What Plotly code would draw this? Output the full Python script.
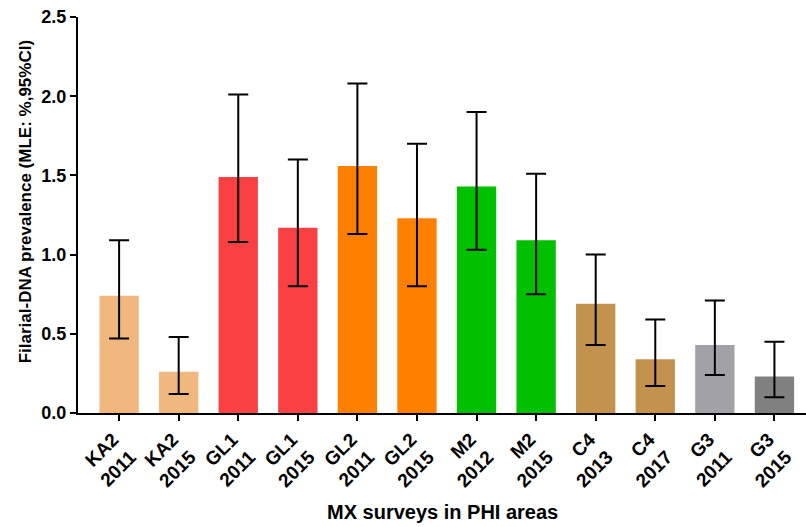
import plotly.graph_objects as go

areas = ["KA2", "KA2", "GL1", "GL1", "GL2", "GL2", "M2", "M2", "C4", "C4", "G3", "G3"]
years = ["2011", "2015", "2011", "2015", "2011", "2015", "2012", "2015", "2013", "2017", "2011", "2015"]
prevalence = [0.74, 0.26, 1.49, 1.17, 1.56, 1.23, 1.43, 1.09, 0.69, 0.34, 0.43, 0.23]
ci_upper = [1.09, 0.48, 2.01, 1.60, 2.08, 1.70, 1.90, 1.51, 1.00, 0.59, 0.71, 0.45]
ci_lower = [0.47, 0.12, 1.08, 0.80, 1.13, 0.80, 1.03, 0.75, 0.43, 0.17, 0.24, 0.10]
colors = ["#F0B77F", "#F0B77F", "#F94144", "#F94144", "#FF8000", "#FF8000",
          "#00C000", "#00C000", "#C4924F", "#C4924F", "#A2A1A6", "#808080"]
y_ticks = [0, 0.5, 1.0, 1.5, 2.0, 2.5]

labels = [f"{a}<br>{y}" for a, y in zip(areas, years)]
xs = list(range(len(labels)))
err_plus = [u - p for u, p in zip(ci_upper, prevalence)]
err_minus = [p - l for p, l in zip(prevalence, ci_lower)]

fig = go.Figure(go.Bar(
    x=xs, y=prevalence, width=0.66,
    marker=dict(color=colors, line=dict(width=0)),
    error_y=dict(type="data", symmetric=False, array=err_plus, arrayminus=err_minus,
                 color="black", thickness=2, width=10),
    hoverinfo="skip",
))

font_family = "Liberation Sans, Arial, sans-serif"
fig.update_layout(
    width=806, height=527,
    margin=dict(l=78, r=0, t=17, b=114, autoexpand=False),
    plot_bgcolor="white", paper_bgcolor="white",
    showlegend=False,
    font=dict(family=font_family, color="black"),
    xaxis=dict(
        tickmode="array", tickvals=xs, ticktext=[f"<b>{t}</b>" for t in labels],
        tickangle=-45, tickfont=dict(size=19, family=font_family, color="black"),
        ticklabelshift=-6,
        range=[-0.69, 11.53], showline=True, linecolor="black", linewidth=2,
        ticks="outside", ticklen=6, tickwidth=2, tickcolor="black",
        showgrid=False, zeroline=False, automargin=False,
    ),
    yaxis=dict(
        range=[0, 2.5], tickvals=y_ticks,
        ticktext=[f"<b>{v:.1f}</b>" for v in y_ticks],
        tickfont=dict(size=18, family=font_family, color="black"),
        showline=True, linecolor="black", linewidth=2,
        ticks="outside", ticklen=6, tickwidth=2, tickcolor="black",
        showgrid=False, zeroline=False, automargin=False,
    ),
    annotations=[
        dict(text="<b>Filarial-DNA prevalence (MLE: %,95%CI)</b>", textangle=-90,
             xref="paper", yref="paper", x=0, y=0.532, xanchor="center", yanchor="middle",
             xshift=-53, showarrow=False, font=dict(size=17, family=font_family, color="black")),
        dict(text="<b>MX surveys in PHI areas</b>",
             xref="paper", yref="paper", x=0.5, y=0, xanchor="center", yanchor="middle",
             yshift=-99, showarrow=False, font=dict(size=20, family=font_family, color="black")),
    ],
)

fig.write_html("out.html", config={"displayModeBar": False},
               post_script="document.body.style.margin='0';")
